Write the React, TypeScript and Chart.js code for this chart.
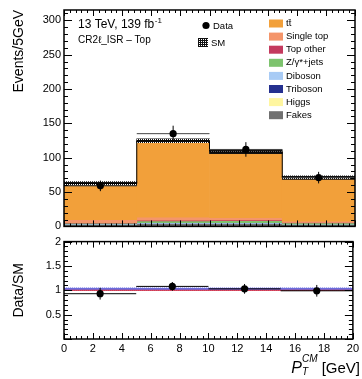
import React, { useEffect, useRef } from 'react';
import { Chart, registerables } from 'chart.js';
Chart.register(...registerables);

const FONT = '"Liberation Sans", Arial, Helvetica, sans-serif';

// ---- data ----
const binEdges = [0, 5, 10, 15, 20];
const binCenters = [2.5, 7.5, 12.5, 17.5];
const binHalf = [2.5, 2.5, 2.5, 2.5];

// stack, bottom to top
const fakes = [2.5, 4.0, 4.0, 2.5];
const higgs = [0.2, 0.3, 0.3, 0.2];
const triboson = [0.1, 0.1, 0.1, 0.1];
const diboson = [0.8, 1.0, 1.0, 0.6];
const zjets = [1.0, 2.5, 3.0, 1.5];
const topOther = [0.8, 1.2, 1.2, 0.8];
const singleTop = [4.5, 4.5, 3.0, 2.0];
const ttbar = [52.6, 110.9, 95.9, 63.3];
const smErr = [2.8, 2.8, 2.8, 2.5];

const dataCounts = [59, 135, 112, 71];
const dataErr = [7.7, 11.6, 10.6, 8.4];

const ratioValues = [0.93, 1.08, 1.03, 0.99];
const ratioErr = [0.12, 0.09, 0.1, 0.12];
const ratioBandLo = [0.99, 0.99, 0.99, 0.99];
const ratioBandHi = [1.05, 1.05, 1.05, 1.05];

const yTicksUpperStep = 50;
const yUpperMax = 315;
const yRatioStep = 0.5;
const xTickStep = 2;

const stackComponents = [
  { label: 'Fakes', values: fakes, color: '#707070' },
  { label: 'Higgs', values: higgs, color: '#FFF6A0' },
  { label: 'Triboson', values: triboson, color: '#25308F' },
  { label: 'Diboson', values: diboson, color: '#A8CBF5' },
  { label: 'Z/\u03b3*+jets', values: zjets, color: '#7DC36E' },
  { label: 'Top other', values: topOther, color: '#C43A5E' },
  { label: 'Single top', values: singleTop, color: '#F4956A' },
  { label: 'tt\u0304', values: ttbar, color: '#F2A03A' },
];
const legendOrder = ['tt\u0304', 'Single top', 'Top other', 'Z/\u03b3*+jets', 'Diboson', 'Triboson', 'Higgs', 'Fakes'];

function makePattern(fg: string, bg: string | null, holes: number[][], w: number, h: number): CanvasPattern | string {
  const c = document.createElement('canvas');
  c.width = w;
  c.height = h;
  const g = c.getContext('2d');
  if (!g) return fg;
  g.fillStyle = fg;
  g.fillRect(0, 0, w, h);
  holes.forEach(([a, b]) => {
    if (bg) {
      g.fillStyle = bg;
      g.fillRect(a, b, 1, 1);
    } else {
      g.clearRect(a, b, 1, 1);
    }
  });
  return g.createPattern(c, 'repeat') || fg;
}

function range(a: number, b: number, step: number) {
  const out: number[] = [];
  for (let v = a; v <= b + 1e-9; v += step) out.push(Math.round(v * 1000) / 1000);
  return out;
}

function framePlugin(xMaj: number[], xMin: number[], yMaj: number[], yMin: number[], xl: number[], yl: number[]) {
  return {
    id: 'frameTicks',
    afterDatasetsDraw(chart: any) {
      const { ctx, chartArea: a, scales } = chart;
      const xs = scales.x;
      const ys = scales.y;
      ctx.save();
      ctx.strokeStyle = '#000';
      ctx.lineWidth = 1;
      ctx.beginPath();
      const xt = (vals: number[], len: number) => {
        vals.forEach((v) => {
          const p = Math.round(xs.getPixelForValue(v)) + 0.5;
          ctx.moveTo(p, a.bottom);
          ctx.lineTo(p, a.bottom - len);
          ctx.moveTo(p, a.top);
          ctx.lineTo(p, a.top + len);
        });
      };
      const yt = (vals: number[], len: number) => {
        vals.forEach((v) => {
          const p = Math.round(ys.getPixelForValue(v)) + 0.5;
          ctx.moveTo(a.left, p);
          ctx.lineTo(a.left + len, p);
          ctx.moveTo(a.right, p);
          ctx.lineTo(a.right - len, p);
        });
      };
      xt(xMaj, xl[0]);
      xt(xMin, xl[1]);
      yt(yMaj, yl[0]);
      yt(yMin, yl[1]);
      ctx.stroke();
      ctx.lineWidth = 1.5;
      ctx.strokeRect(a.left, a.top, a.right - a.left, a.bottom - a.top);
      ctx.restore();
    },
  };
}

const barCommon = {
  type: 'bar',
  borderWidth: 0,
  grouped: false,
  barPercentage: 1,
  categoryPercentage: 1,
};

export default function App() {
  const topRef = useRef<HTMLCanvasElement>(null);
  const botRef = useRef<HTMLCanvasElement>(null);

  useEffect(() => {
    if (!topRef.current || !botRef.current) return;
    const hatchBlack = makePattern('#111', '#ffffff', [[1, 1], [3, 1]], 4, 3);
    const hatchLegend = makePattern('#111', '#ffffff', [[1, 1], [3, 3], [1, 3], [3, 1]], 4, 4);
    const hatchBlue = makePattern('#6c6cdc', '#d8d8ff', [[1, 1], [3, 1]], 4, 3);

    // cumulative stack
    const cum = [0, 0, 0, 0];
    const stackSets = stackComponents.map((c, k) => {
      const d = binCenters.map((x, i) => {
        const lo = cum[i];
        const hi = cum[i] + c.values[i];
        cum[i] = hi;
        return { x, y: [lo, hi] };
      });
      return { ...barCommon, label: c.label, data: d, backgroundColor: c.color, order: 100 - k };
    });
    const total = cum.slice();

    const smBand = {
      ...barCommon,
      label: 'SM',
      data: binCenters.map((x, i) => ({ x, y: [total[i] - smErr[i], total[i] + smErr[i]] })),
      backgroundColor: hatchBlack,
      order: 50,
    };
    const smLine = {
      type: 'line',
      label: 'SMline',
      data: binEdges.map((e, i) => ({ x: e, y: total[Math.min(i, total.length - 1)] })),
      stepped: 'before',
      borderColor: '#000',
      borderWidth: 1,
      pointRadius: 0,
      fill: false,
      order: 40,
    };
    const xErrData: any[] = [];
    const yErrData: any[] = [];
    binCenters.forEach((x, i) => {
      xErrData.push({ x: x - binHalf[i], y: dataCounts[i] }, { x: x + binHalf[i], y: dataCounts[i] }, { x: x + binHalf[i], y: null });
      yErrData.push({ x, y: dataCounts[i] - dataErr[i] }, { x, y: dataCounts[i] + dataErr[i] }, { x, y: null });
    });
    const errX = { type: 'line', data: xErrData, borderColor: '#444', borderWidth: 1, pointRadius: 0, spanGaps: false, fill: false, order: 30 };
    const errY = { type: 'line', data: yErrData, borderColor: '#000', borderWidth: 1, pointRadius: 0, spanGaps: false, fill: false, order: 29 };
    const dataPts = {
      type: 'line',
      label: 'Data',
      data: binCenters.map((x, i) => ({ x, y: dataCounts[i] })),
      showLine: false,
      pointRadius: 3.6,
      pointBackgroundColor: '#000',
      pointBorderWidth: 0,
      order: 1,
    };

    const textPlugin = {
      id: 'texts',
      afterDraw(chart: any) {
        const ctx = chart.ctx;
        ctx.save();
        ctx.fillStyle = '#000';
        ctx.textBaseline = 'alphabetic';
        ctx.textAlign = 'left';
        ctx.font = `12px ${FONT}`;
        const t1 = '13 TeV, 139 fb';
        ctx.fillText(t1, 78, 28);
        const w1 = ctx.measureText(t1).width;
        ctx.font = `8px ${FONT}`;
        ctx.fillText('-1', 78 + w1 + 0.5, 23);
        ctx.font = `10px ${FONT}`;
        ctx.fillText('CR2\u2113_ISR \u2013 Top', 78, 43);

        // Data / SM legend
        ctx.beginPath();
        ctx.arc(206, 25.5, 3.6, 0, Math.PI * 2);
        ctx.fill();
        ctx.font = `9.5px ${FONT}`;
        ctx.textBaseline = 'middle';
        ctx.fillText('Data', 213, 26);
        ctx.fillStyle = hatchLegend;
        ctx.fillRect(198, 38, 10, 9);
        ctx.fillStyle = '#000';
        ctx.fillText('SM', 211, 43);

        legendOrder.forEach((lab, i) => {
          const comp = stackComponents.find((c) => c.label === lab)!;
          const y = 23.5 + i * 13.1;
          ctx.fillStyle = comp.color;
          ctx.fillRect(269, y - 4, 14, 8);
          ctx.fillStyle = '#000';
          ctx.fillText(lab, 286, y);
        });
        ctx.restore();
      },
    };

    const xMaj = range(0, 20, xTickStep);
    const xMin = range(0, 20, 0.4).filter((v) => Math.abs(v / 2 - Math.round(v / 2)) > 1e-6);
    const yMajU = range(0, 300, yTicksUpperStep);
    const yMinU = range(0, 310, 10).filter((v) => v % 50 !== 0);
    const yMajR = range(0, 2, yRatioStep);
    const yMinR = range(0, 2, 0.1).filter((v) => Math.abs(v / 0.5 - Math.round(v / 0.5)) > 1e-6);

    const top = new Chart(topRef.current, {
      type: 'bar',
      data: { datasets: [...stackSets, smBand, smLine, errX, errY, dataPts] as any },
      options: {
        responsive: false,
        animation: false,
        events: [],
        layout: { padding: { left: 0, right: 7, top: 10, bottom: 9 } },
        plugins: { legend: { display: false }, tooltip: { enabled: false } },
        scales: {
          x: { type: 'linear', min: 0, max: 20, offset: false, display: false, grid: { offset: false } },
          y: {
            type: 'linear',
            min: 0,
            max: yUpperMax,
            afterFit: (s: any) => { s.width = 64; },
            grid: { display: false, drawTicks: false },
            border: { display: false },
            ticks: { stepSize: yTicksUpperStep, includeBounds: false, padding: 3, color: '#000', font: { size: 11, family: FONT } },
            title: { display: true, text: 'Events/5GeV', align: 'end', color: '#000', font: { size: 14, family: FONT }, padding: { top: 11, bottom: 0 } },
          },
        },
      } as any,
      plugins: [framePlugin(xMaj, xMin, yMajU, yMinU, [6, 3], [8, 4]), textPlugin],
    });

    // ratio
    const rBand = {
      ...barCommon,
      xAxisID: 'xb',
      data: binCenters.map((x, i) => ({ x, y: [ratioBandLo[i], ratioBandHi[i]] })),
      backgroundColor: hatchBlue,
      order: 50,
    };
    const rLine = {
      type: 'line',
      data: [{ x: 0, y: 1 }, { x: 20, y: 1 }],
      borderColor: '#e0303a',
      borderWidth: 1,
      pointRadius: 0,
      fill: false,
      order: 45,
    };
    const rxErr: any[] = [];
    const ryErr: any[] = [];
    binCenters.forEach((x, i) => {
      rxErr.push({ x: x - binHalf[i], y: ratioValues[i] }, { x: x + binHalf[i], y: ratioValues[i] }, { x: x + binHalf[i], y: null });
      ryErr.push({ x, y: ratioValues[i] - ratioErr[i] }, { x, y: ratioValues[i] + ratioErr[i] }, { x, y: null });
    });
    const rErrX = { type: 'line', data: rxErr, borderColor: '#000', borderWidth: 1, pointRadius: 0, spanGaps: false, fill: false, order: 30 };
    const rErrY = { type: 'line', data: ryErr, borderColor: '#000', borderWidth: 1, pointRadius: 0, spanGaps: false, fill: false, order: 29 };
    const rPts = {
      type: 'line',
      data: binCenters.map((x, i) => ({ x, y: ratioValues[i] })),
      showLine: false,
      pointRadius: 3.6,
      pointBackgroundColor: '#000',
      pointBorderWidth: 0,
      order: 1,
    };

    const xTitlePlugin = {
      id: 'xtitle',
      afterDraw(chart: any) {
        const ctx = chart.ctx;
        ctx.save();
        ctx.fillStyle = '#000';
        ctx.textAlign = 'left';
        ctx.textBaseline = 'alphabetic';
        const right = 360;
        ctx.font = `15px ${FONT}`;
        const unit = ' [GeV]';
        const wu = ctx.measureText(unit).width;
        ctx.font = `italic 10px ${FONT}`;
        const wcm = ctx.measureText('CM').width;
        ctx.font = `italic 16px ${FONT}`;
        const wp = ctx.measureText('P').width;
        const x0 = right - wu - wcm - wp;
        const base = 141;
        ctx.fillText('P', x0, base);
        ctx.font = `italic 10px ${FONT}`;
        ctx.fillText('CM', x0 + wp, base - 11);
        ctx.fillText('T', x0 + wp, base + 2);
        ctx.font = `15px ${FONT}`;
        ctx.fillText(unit, x0 + wp + wcm, base);
        ctx.restore();
      },
    };

    const bot = new Chart(botRef.current, {
      type: 'bar',
      data: { datasets: [rLine, rBand, rErrX, rErrY, rPts] as any },
      options: {
        responsive: false,
        animation: false,
        events: [],
        layout: { padding: { left: 0, right: 7, top: 7, bottom: 0 } },
        plugins: { legend: { display: false }, tooltip: { enabled: false } },
        scales: {
          x: {
            type: 'linear',
            min: 0,
            max: 20,
            offset: false,
            afterFit: (s: any) => { s.height = 40; },
            grid: { display: false, drawTicks: false, offset: false },
            border: { display: false },
            ticks: { stepSize: xTickStep, autoSkip: false, maxRotation: 0, padding: 3, color: '#000', font: { size: 11, family: FONT } },
          },
          xb: { type: 'linear', axis: 'x', position: 'bottom', min: 0, max: 20, offset: false, display: false, grid: { offset: false } },
          y: {
            type: 'linear',
            min: 0,
            max: 2,
            afterFit: (s: any) => { s.width = 64; },
            grid: { display: false, drawTicks: false },
            border: { display: false },
            ticks: {
              stepSize: yRatioStep,
              padding: 3,
              color: '#000',
              font: { size: 11, family: FONT },
              callback: (v: any) => (Number(v) === 0 ? '' : String(v)),
            },
            title: { display: true, text: 'Data/SM', align: 'center', color: '#000', font: { size: 14, family: FONT }, padding: { top: 11, bottom: 0 } },
          },
        },
      } as any,
      plugins: [framePlugin(xMaj, xMin, yMajR, yMinR, [6, 3], [8, 4]), xTitlePlugin],
    });

    return () => {
      top.destroy();
      bot.destroy();
    };
  }, []);

  return (
    <div style={{ position: 'absolute', left: 0, top: 0, width: 362, height: 379, background: '#fff' }}>
      <canvas ref={topRef} width={362} height={236} style={{ position: 'absolute', left: 0, top: 0 }} />
      <canvas ref={botRef} width={362} height={147} style={{ position: 'absolute', left: 0, top: 232 }} />
    </div>
  );
}
